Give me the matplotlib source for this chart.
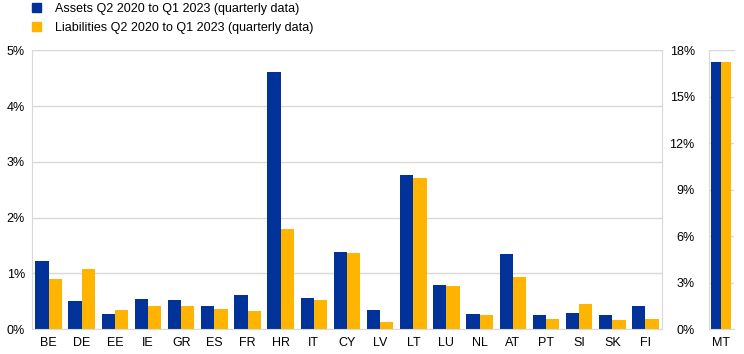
import matplotlib
matplotlib.use("Agg")
import matplotlib.pyplot as plt
import matplotlib.ticker as ticker
from matplotlib.patches import Patch
import numpy as np

plt.rcParams['font.family'] = ['Liberation Sans', 'DejaVu Sans']

# euro area countries (left axis) plus Malta on its own scale (right panel)
countries = ["BE", "DE", "EE", "IE", "GR", "ES", "FR", "HR", "IT", "CY",
             "LV", "LT", "LU", "NL", "AT", "PT", "SI", "SK", "FI"]
assets = [1.22, 0.50, 0.27, 0.54, 0.52, 0.41, 0.61, 4.61, 0.56, 1.38,
          0.34, 2.76, 0.79, 0.27, 1.35, 0.25, 0.29, 0.25, 0.41]
liabilities = [0.90, 1.08, 0.34, 0.41, 0.41, 0.36, 0.32, 1.79, 0.52, 1.36,
               0.13, 2.71, 0.77, 0.25, 0.93, 0.18, 0.45, 0.16, 0.18]
mt_label = ["MT"]
mt_assets = [17.25]
mt_liabilities = [17.25]

legend_labels = ["Assets Q2 2020 to Q1 2023 (quarterly data)",
                 "Liabilities Q2 2020 to Q1 2023 (quarterly data)"]

blue = "#003299"
orange = "#FFB400"
grid_c = "#d9d9d9"
fs = 9.0
w = 0.4

fig = plt.figure(figsize=(7.44, 3.54), dpi=100)
ax = fig.add_axes([32/744, 25/354, 630/744, 278.7/354])
ax2 = fig.add_axes([708.7/744, 25/354, 25.3/744, 278.7/354])

def style(a):
    a.set_axisbelow(True)
    a.grid(axis='y', color=grid_c, linewidth=1)
    for s in a.spines.values():
        s.set_color(grid_c)
    a.tick_params(length=0, labelsize=fs, colors='black')
    a.yaxis.set_major_formatter(ticker.FuncFormatter(lambda v, p: "%d%%" % round(v)))

x = np.arange(len(countries))
ax.bar(x - w/2, assets, w, color=blue)
ax.bar(x + w/2, liabilities, w, color=orange)
ax.set_xlim(-0.5, len(countries) - 0.5)
ax.set_ylim(0, 5)
ax.set_yticks(np.arange(0, 6, 1))
ax.set_xticks(x)
ax.set_xticklabels(countries)
style(ax)
ax.tick_params(axis='y', pad=5)
ax.tick_params(axis='x', pad=6)

x2 = np.arange(len(mt_label))
ax2.bar(x2 - w/2, mt_assets, w, color=blue)
ax2.bar(x2 + w/2, mt_liabilities, w, color=orange)
ax2.set_xlim(-0.5, 0.5)
ax2.set_ylim(0, 18)
ax2.set_yticks(np.arange(0, 19, 3))
ax2.set_xticks(x2)
ax2.set_xticklabels(mt_label)
style(ax2)
ax2.spines['right'].set_visible(False)
ax2.tick_params(axis='y', pad=10)
ax2.tick_params(axis='x', pad=6)

handles = [Patch(color=blue), Patch(color=orange)]
fig.legend(handles, legend_labels, loc='upper left',
           bbox_to_anchor=(24/744, 1.012), frameon=False, fontsize=fs,
           handlelength=0.72, handleheight=0.72, handletextpad=1.15,
           labelspacing=0.5, borderaxespad=0.2)

fig.savefig("out.png", dpi=100)
